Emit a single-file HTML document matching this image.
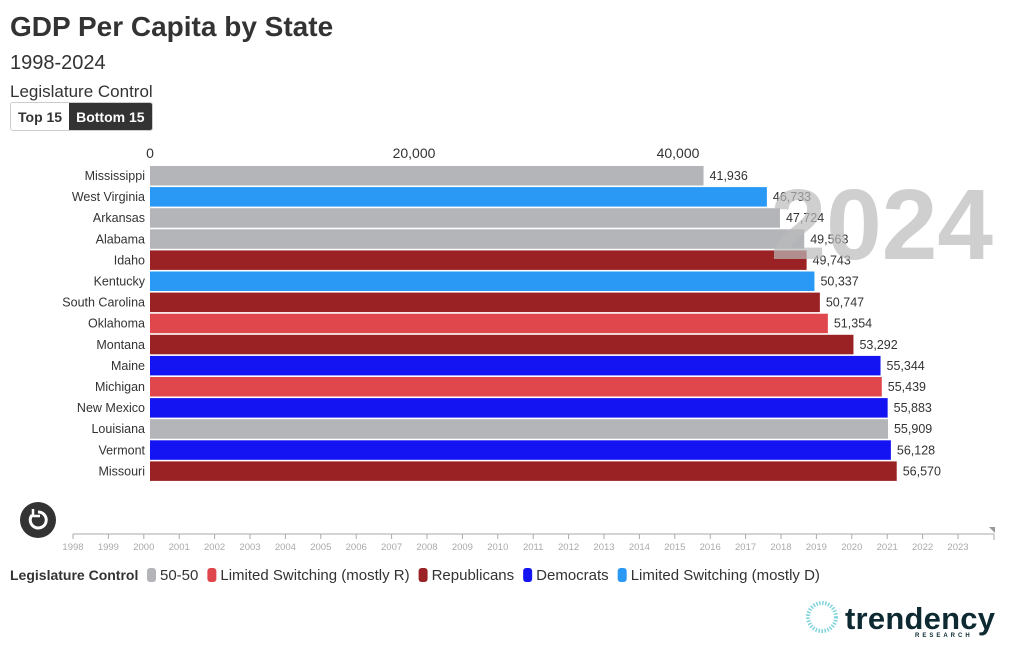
<!DOCTYPE html>
<html><head><meta charset="utf-8"><style>
body{margin:0;width:1022px;height:647px;background:#fff;font-family:"Liberation Sans",sans-serif;color:#333;position:relative;overflow:hidden}
.abs{position:absolute}
#title{left:10px;top:11px;font-size:28px;font-weight:bold;color:#333}
#sub{left:10px;top:52px;font-size:20px}
#lc{left:10px;top:82px;font-size:17px}
#btns{left:10px;top:102px;display:flex;border:1px solid #ccc;border-radius:3px;overflow:hidden;font-size:14px;font-weight:bold}
#btns div{padding:6px 7px 5px}
</style></head><body>
<div class="abs" id="title">GDP Per Capita by State</div>
<div class="abs" id="sub">1998-2024</div>
<div class="abs" id="lc">Legislature Control</div>
<div class="abs" id="btns"><div style="background:#fff;color:#333">Top 15</div><div style="background:#333;color:#fff">Bottom 15</div></div>
<svg class="abs" style="left:0;top:0" width="1022" height="647" id="chart">
<g id="xaxis"></g><g id="bars"></g>
<text x="993" y="259" text-anchor="end" font-size="100" font-weight="bold" fill="#bbb" fill-opacity="0.7" font-family="Liberation Sans, sans-serif">2024</text>
<circle cx="38" cy="520" r="18" fill="#333"/>
<path d="M32 515 A8 8 0 1 0 38 512" fill="none" stroke="#fff" stroke-width="3"/>
<path d="M33 509 L33 516 L40 516" fill="none" stroke="#fff" stroke-width="2.5"/>
<g id="timeline"></g>
<g id="legend"></g>
<circle cx="822" cy="617" r="14" fill="none" stroke="#7fd3dc" stroke-width="4" stroke-dasharray="1.5 1.5"/>
<text x="845" y="629" font-size="31" font-weight="bold" fill="#0d2a33" textLength="150">trendency</text>
<text x="915" y="637" font-size="6" font-weight="bold" fill="#0d2a33" letter-spacing="3">RESEARCH</text>
</svg>
<script>
const states=["Mississippi","West Virginia","Arkansas","Alabama","Idaho","Kentucky","South Carolina","Oklahoma","Montana","Maine","Michigan","New Mexico","Louisiana","Vermont","Missouri"];
const values=[41936,46733,47724,49563,49743,50337,50747,51354,53292,55344,55439,55883,55909,56128,56570];
const groups=["g","lb","g","g","r","lb","r","lr","r","b","lr","b","g","b","r"];
const xTicks=[0,20000,40000];
const years=[1998,1999,2000,2001,2002,2003,2004,2005,2006,2007,2008,2009,2010,2011,2012,2013,2014,2015,2016,2017,2018,2019,2020,2021,2022,2023];
const legendKeys=["g","lr","r","b","lb"];
const legendLabels=["50-50","Limited Switching (mostly R)","Republicans","Democrats","Limited Switching (mostly D)"];
const colors={g:"#b3b5b8",lb:"#2a98f5",r:"#9a2225",lr:"#e0474d",b:"#1414f2"};
const NS="http://www.w3.org/2000/svg";
function mk(t,a,p){const e=document.createElementNS(NS,t);for(const k in a)e.setAttribute(k,a[k]);p.appendChild(e);return e;}
const x=v=>150+v*264/20000;
const y=i=>166+i*21.1;
const xa=document.getElementById('xaxis');
xTicks.forEach(t=>{const e=mk('text',{x:x(t),y:158,'text-anchor':'middle','font-size':14,fill:'#333'},xa);e.textContent=t.toLocaleString('en-US');

});
const bg=document.getElementById('bars');
states.forEach((s,i)=>{
 const r=mk('rect',{x:150,y:y(i),width:x(values[i])-150,height:19.5,fill:colors[groups[i]]},bg);
 
 
 const l=mk('text',{x:145,y:y(i)+14,'text-anchor':'end','font-size':12.5,fill:'#333'},bg);l.textContent=s;
 
 
 const v=mk('text',{x:x(values[i])+6,y:y(i)+14,'font-size':12.5,fill:'#333'},bg);v.textContent=values[i].toLocaleString('en-US');
 
 
});
const tl=document.getElementById('timeline');
const yx=yr=>73+(yr-1998)*35.4;
const ln=mk('line',{x1:73,y1:534,x2:994,y2:534,stroke:'#aaa','stroke-width':1},tl);


mk('polygon',{points:'989,527 995,527 995,533','fill':'#999'},tl);
mk('line',{x1:994,y1:534,x2:994,y2:540,stroke:'#aaa'},tl);
years.forEach(yr=>{mk('line',{x1:yx(yr),y1:534,x2:yx(yr),y2:539,stroke:'#aaa'},tl);
 const t=mk('text',{x:yx(yr),y:550,'text-anchor':'middle','font-size':9.5,fill:'#aaa'},tl);t.textContent=yr;
 
 });
const lg=document.getElementById('legend');
const lt=mk('text',{x:10,y:580,'font-size':14,'font-weight':'bold',fill:'#333'},lg);lt.textContent='Legislature Control';


let lx=147;
legendKeys.forEach((k,i)=>{
 const sw=mk('rect',{x:lx,y:568,width:9,height:14,rx:3,fill:colors[k]},lg);
 
 
 const t=mk('text',{x:lx+13,y:580,'font-size':15,fill:'#333'},lg);t.textContent=legendLabels[i];
 
 
 lx+=13+t.getComputedTextLength()+9;
});
</script>
</body></html>
